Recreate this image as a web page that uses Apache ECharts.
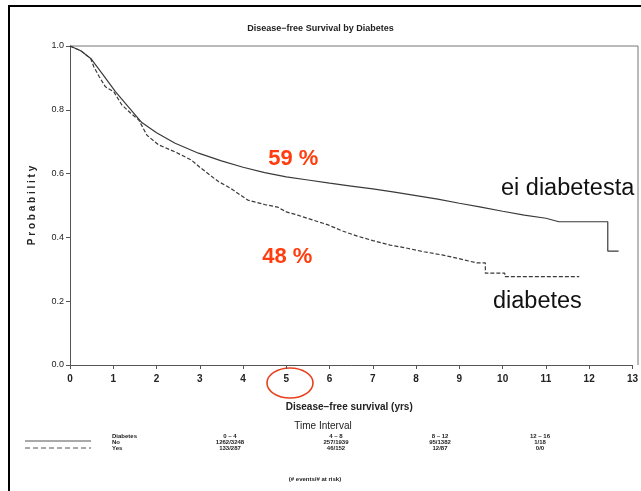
<!DOCTYPE html>
<html>
<head>
<meta charset="utf-8">
<script src="https://cdn.jsdelivr.net/npm/echarts@6/dist/echarts.min.js"></script>
<style>
  html, body { margin: 0; padding: 0; background: #fff; }
  #chart { width: 641px; height: 491px; }
</style>
</head>
<body>
<div id="chart"></div>
<script>
// Kaplan–Meier disease-free survival, no diabetes (solid)
const noDiabetesT = [0, 0.25, 0.48, 0.74, 1.05, 1.28, 1.66, 2.0, 2.43, 2.97, 3.5, 4.0, 4.5, 5.0, 5.5, 6.0, 6.5, 7.0, 7.5, 8.0, 8.5, 9.0, 9.5, 10.0, 10.5, 11.0, 11.3, 12.43, 12.43, 12.68];
const noDiabetesS = [1.0, 0.985, 0.961, 0.914, 0.857, 0.82, 0.76, 0.728, 0.695, 0.664, 0.64, 0.62, 0.603, 0.59, 0.58, 0.57, 0.561, 0.552, 0.542, 0.531, 0.52, 0.507, 0.495, 0.482, 0.47, 0.46, 0.449, 0.449, 0.357, 0.357];

// Disease-free survival, diabetes (dashed)
const diabetesT = [0, 0.25, 0.48, 0.55, 0.67, 0.82, 1.01, 1.2, 1.4, 1.59, 1.78, 2.05, 2.43, 2.8, 3.0, 3.43, 3.7, 4.11, 4.5, 4.8, 5.0, 5.26, 5.6, 5.95, 6.3, 6.64, 7.0, 7.4, 7.8, 8.18, 8.6, 8.94, 9.4, 9.6, 9.6, 10.05, 10.05, 11.77];
const diabetesS = [1.0, 0.985, 0.96, 0.935, 0.905, 0.872, 0.857, 0.815, 0.79, 0.768, 0.72, 0.69, 0.668, 0.643, 0.62, 0.575, 0.555, 0.517, 0.503, 0.495, 0.48, 0.47, 0.455, 0.44, 0.42, 0.404, 0.39, 0.376, 0.366, 0.355, 0.345, 0.335, 0.32, 0.32, 0.288, 0.288, 0.277, 0.277];

// Axis ticks
const xTicks = [0, 1, 2, 3, 4, 5, 6, 7, 8, 9, 10, 11, 12, 13];
const yTicks = [0.0, 0.2, 0.4, 0.6, 0.8, 1.0];

// Risk table under the plot (# events / # at risk)
const intervals = ['0 – 4', '4 – 8', '8 – 12', '12 – 16'];
const riskNo = ['1262/3248', '257/1939', '95/1382', '1/18'];
const riskYes = ['133/287', '46/152', '12/87', '0/0'];
const riskColX = [230, 336, 440, 540];

// Highlighted time point
const highlightT = 5;

function pairs(t, s) { return t.map((v, i) => [v, s[i]]); }
function valueAt(t, s, x) { return s[t.indexOf(x)]; }

const ink = '#3a3a3a';
const red = '#ff3d0f';
const sasFont = 'Liberation Sans, Arial, sans-serif';

const chart = echarts.init(document.getElementById('chart'), null, { renderer: 'canvas' });

const tableGraphics = [];
// legend line samples
tableGraphics.push({ type: 'line', shape: { x1: 25, y1: 441, x2: 91, y2: 441 }, style: { stroke: '#555', lineWidth: 1.2 } });
tableGraphics.push({ type: 'line', shape: { x1: 25, y1: 448, x2: 91, y2: 448 }, style: { stroke: '#555', lineWidth: 1.2, lineDash: [5, 3] } });
const rowLabels = ['Diabetes', 'No', 'Yes'];
rowLabels.forEach((s, i) => {
  tableGraphics.push({ type: 'text', x: 112, y: 436 + i * 6, style: { text: s, font: 'bold 6px ' + sasFont, fill: '#222', textVerticalAlign: 'middle' } });
});
intervals.forEach((s, i) => {
  [s, riskNo[i], riskYes[i]].forEach((txt, r) => {
    tableGraphics.push({ type: 'text', x: riskColX[i], y: 436 + r * 6, style: { text: txt, font: 'bold 6px ' + sasFont, fill: '#222', textAlign: 'center', textVerticalAlign: 'middle' } });
  });
});

chart.setOption({
  backgroundColor: '#fff',
  animation: false,
  title: {
    text: 'Disease−free Survival by Diabetes',
    left: 'center', top: 19,
    textStyle: { fontFamily: sasFont, fontWeight: 'bold', fontSize: 9, color: '#222' }
  },
  grid: { left: 70, right: 3, top: 46, bottom: 126 },
  xAxis: {
    type: 'value', min: xTicks[0], max: xTicks[xTicks.length - 1], interval: 1,
    name: 'Disease−free survival (yrs)', nameLocation: 'middle', nameGap: 37,
    nameTextStyle: { fontFamily: sasFont, fontWeight: 'bold', fontSize: 10, color: '#222', padding: [0, 0, 0, -4] },
    axisLine: { show: true, lineStyle: { color: '#555', width: 1 } },
    axisTick: { show: true, length: 4, lineStyle: { color: '#555' } },
    axisLabel: { fontFamily: sasFont, fontWeight: 'bold', fontSize: 10, color: '#222', margin: 9 },
    splitLine: { show: false }
  },
  yAxis: {
    type: 'value', min: yTicks[0], max: yTicks[yTicks.length - 1], interval: 0.2,
    name: 'P r o b a b i l i t y', nameLocation: 'middle', nameGap: 33, nameRotate: 90,
    nameTextStyle: { fontFamily: sasFont, fontWeight: 'bold', fontSize: 10, color: '#222' },
    axisLine: { show: true, lineStyle: { color: '#555', width: 1 } },
    axisTick: { show: true, length: 4, lineStyle: { color: '#555' } },
    axisLabel: { fontFamily: sasFont, fontSize: 9, color: '#222', margin: 6, formatter: v => v.toFixed(1) },
    splitLine: { show: false }
  },
  series: [
    {
      name: 'No', type: 'line', data: pairs(noDiabetesT, noDiabetesS),
      showSymbol: false, lineStyle: { color: ink, width: 1.2 },
      markPoint: {
        symbol: 'circle', symbolSize: 0,
        data: [{ coord: [highlightT, valueAt(noDiabetesT, noDiabetesS, highlightT)] }],
        label: {
          show: true, position: 'inside', offset: [7, -18],
          formatter: () => Math.round(valueAt(noDiabetesT, noDiabetesS, highlightT) * 100) + ' %',
          fontFamily: sasFont, fontWeight: 'bold', fontSize: 22, color: red
        }
      }
    },
    {
      name: 'Yes', type: 'line', data: pairs(diabetesT, diabetesS),
      showSymbol: false, lineStyle: { color: ink, width: 1.2, type: [4, 2] },
      markPoint: {
        symbol: 'circle', symbolSize: 0,
        data: [{ coord: [highlightT, valueAt(diabetesT, diabetesS, highlightT)] }],
        label: {
          show: true, position: 'inside', offset: [1, 45],
          formatter: () => Math.round(valueAt(diabetesT, diabetesS, highlightT) * 100) + ' %',
          fontFamily: sasFont, fontWeight: 'bold', fontSize: 22, color: red
        }
      }
    }
  ],
  graphic: [
    // outer frame
    { type: 'rect', shape: { x: 9, y: 6, width: 700, height: 600 }, style: { fill: 'none', stroke: '#000', lineWidth: 2 } },
    // plot frame top and right
    { type: 'line', shape: { x1: 70, y1: 46, x2: 638, y2: 46 }, style: { stroke: '#777', lineWidth: 1 } },
    { type: 'line', shape: { x1: 638, y1: 46, x2: 638, y2: 365 }, style: { stroke: '#777', lineWidth: 1 } },
    // series labels
    { type: 'text', x: 501, y: 189, style: { text: 'ei diabetesta', font: '23.5px ' + sasFont, fill: '#111', textVerticalAlign: 'middle' } },
    { type: 'text', x: 493, y: 302, style: { text: 'diabetes', font: '23.5px ' + sasFont, fill: '#111', textVerticalAlign: 'middle' } },
    // ring around the 5-year tick
    { type: 'ellipse', shape: { cx: 290, cy: 383, rx: 23, ry: 15 }, style: { fill: 'none', stroke: '#e8401c', lineWidth: 1.6 } },
    { type: 'text', x: 323, y: 426, style: { text: 'Time Interval', font: '10px ' + sasFont, fill: '#222', textAlign: 'center', textVerticalAlign: 'middle' } },
    { type: 'text', x: 315, y: 479, style: { text: '(# events/# at risk)', font: 'bold 6px ' + sasFont, fill: '#222', textAlign: 'center', textVerticalAlign: 'middle' } }
  ].concat(tableGraphics)
});
</script>
</body>
</html>
